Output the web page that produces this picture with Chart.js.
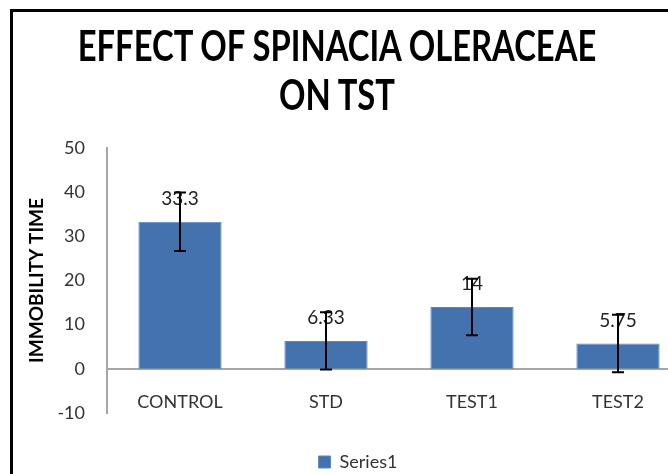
<!DOCTYPE html>
<html>
<head>
<meta charset="utf-8">
<script src="https://cdn.jsdelivr.net/npm/chart.js@4/dist/chart.umd.min.js"></script>
<style>
  html, body { margin: 0; padding: 0; background: #fff; overflow: hidden; }
  #wrap { position: relative; width: 668px; height: 474px; overflow: hidden; }
  #frame { position: absolute; left: 10px; top: 9px; width: 700px; height: 500px;
           border-left: 3px solid #000; border-top: 3px solid #000; box-sizing: border-box; }
  #title { position: absolute; left: 0; top: 21px; width: 674px; text-align: center;
           font-family: Lato, "Open Sans", sans-serif; font-weight: bold; font-size: 42px;
           line-height: 49px; color: #000; transform: scaleX(0.78); transform-origin: 337px 0; }
  canvas { position: absolute; left: 0; top: 0; }
</style>
</head>
<body>
<div id="wrap">
  <div id="frame"></div>
  <canvas id="c" width="720" height="474"></canvas>
  <div id="title">EFFECT OF SPINACIA OLERACEAE<br>ON TST</div>
</div>
<script>
const categories = ['CONTROL', 'STD', 'TEST1', 'TEST2'];
const values = [33.3, 6.33, 14, 5.75];
const errors = [6.6, 6.5, 6.4, 6.5];
const valueLabels = ['33.3', '6.33', '14', '5.75'];
const seriesName = 'Series1';
const yAxisTitle = 'IMMOBILITY TIME';
const yMin = -10, yMax = 50, yStep = 10;

const FONT = 'Lato, "Open Sans", sans-serif';

const valueLabelPlugin = {
  id: 'valueLabels',
  afterDatasetsDraw(chart) {
    const meta = chart.getDatasetMeta(0);
    const ctx = chart.ctx;
    ctx.save();
    ctx.font = '19px ' + FONT;
    ctx.fillStyle = '#222';
    ctx.textAlign = 'center';
    ctx.textBaseline = 'middle';
    meta.data.forEach((el, i) => {
      ctx.fillText(valueLabels[i], el.x, el.y - 23);
    });
    ctx.restore();
  }
};

const errorBarPlugin = {
  id: 'errorBars',
  afterDatasetsDraw(chart) {
    const meta = chart.getDatasetMeta(0);
    const ys = chart.scales.y;
    const ctx = chart.ctx;
    ctx.save();
    ctx.strokeStyle = '#000';
    ctx.lineWidth = 2;
    meta.data.forEach((el, i) => {
      const hi = ys.getPixelForValue(values[i] + errors[i]);
      const lo = ys.getPixelForValue(values[i] - errors[i]);
      ctx.beginPath();
      ctx.moveTo(el.x, hi); ctx.lineTo(el.x, lo);
      ctx.moveTo(el.x - 6, hi); ctx.lineTo(el.x + 6, hi);
      ctx.moveTo(el.x - 6, lo); ctx.lineTo(el.x + 6, lo);
      ctx.stroke();
    });
    ctx.restore();
  }
};

new Chart(document.getElementById('c'), {
  type: 'bar',
  data: {
    labels: categories,
    datasets: [{
      label: seriesName,
      data: values,
      backgroundColor: '#4472AE',
      borderColor: '#5A88C2',
      borderWidth: 1,
      categoryPercentage: 1.0,
      barPercentage: 0.57
    }]
  },
  options: {
    responsive: false,
    animation: false,
    devicePixelRatio: 1,
    layout: { padding: { left: 25, right: 29, top: 148, bottom: 0 } },
    plugins: {
      title: { display: false },
      tooltip: { enabled: false },
      legend: {
        display: true,
        position: 'bottom',
        maxHeight: 61,
        labels: {
          boxWidth: 12,
          boxHeight: 12,
          padding: 40,
          color: '#333',
          font: { family: FONT, size: 18 }
        }
      }
    },
    scales: {
      x: {
        position: { y: 0 },
        grid: { display: false, drawTicks: false },
        border: { display: true, color: '#a6a6a6', width: 2 },
        ticks: { color: '#333', padding: 23, font: { family: FONT, size: 18 } }
      },
      y: {
        min: yMin, max: yMax,
        grid: { display: false, drawTicks: false },
        border: { display: true, color: '#a6a6a6', width: 2 },
        ticks: { stepSize: yStep, color: '#333', padding: 22, font: { family: FONT, size: 18 } },
        title: { display: true, text: yAxisTitle, color: '#000', padding: 0,
                 font: { family: FONT, size: 19, weight: 'bold' } },
        afterFit(scale) { scale.width = 82; }
      }
    }
  },
  plugins: [valueLabelPlugin, errorBarPlugin]
});
</script>
</body>
</html>
